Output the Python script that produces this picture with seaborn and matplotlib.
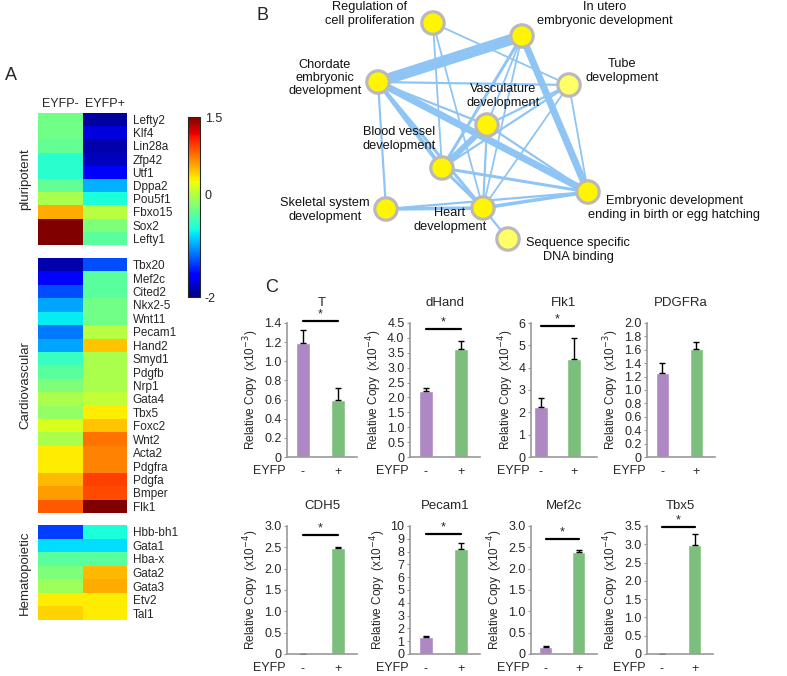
import numpy as np
import pandas as pd
import matplotlib
matplotlib.use('Agg')
import matplotlib.pyplot as plt
import seaborn as sns

sns.set_style('white')
plt.rcParams['font.family'] = ['Liberation Sans', 'DejaVu Sans']

# ---------------- data ----------------
conditions = ['EYFP-', 'EYFP+']

pluri_genes = ['Lefty2', 'Klf4', 'Lin28a', 'Zfp42', 'Utf1', 'Dppa2', 'Pou5f1', 'Fbxo15', 'Sox2', 'Lefty1']
pluri_neg = [-0.30, -0.30, -0.35, -0.60, -0.60, -0.35, -0.05, 0.55, 1.50, 1.50]
pluri_pos = [-1.90, -1.70, -1.85, -1.80, -1.60, -0.95, -0.65, 0.00, -0.25, -0.40]

cardio_genes = ['Tbx20', 'Mef2c', 'Cited2', 'Nkx2-5', 'Wnt11', 'Pecam1', 'Hand2', 'Smyd1', 'Pdgfb', 'Nrp1',
                'Gata4', 'Tbx5', 'Foxc2', 'Wnt2', 'Acta2', 'Pdgfra', 'Pdgfa', 'Bmper', 'Flk1']
cardio_neg = [-1.85, -1.55, -1.30, -1.00, -0.75, -1.15, -1.00, -0.55, -0.40, -0.25,
              -0.05, -0.15, 0.15, -0.05, 0.30, 0.30, 0.50, 0.60, 0.85]
cardio_pos = [-1.30, -0.40, -0.40, -0.30, -0.30, 0.00, 0.45, -0.05, -0.05, -0.05,
              0.05, 0.30, 0.45, 0.75, 0.70, 0.70, 0.95, 0.90, 1.50]

hema_genes = ['Hbb-bh1', 'Gata1', 'Hba-x', 'Gata2', 'Gata3', 'Etv2', 'Tal1']
hema_neg = [-1.35, -0.80, -0.40, -0.25, -0.10, 0.30, 0.40]
hema_pos = [-0.65, -0.80, -0.40, 0.50, 0.55, 0.30, 0.30]

group_names = ['pluripotent', 'Cardiovascular', 'Hematopoietic']

# network (GO terms)
terms = ['Regulation of\ncell proliferation', 'In utero\nembryonic development',
         'Chordate\nembryonic\ndevelopment', 'Tube\ndevelopment', 'Vasculature\ndevelopment',
         'Blood vessel\ndevelopment', 'Skeletal system\ndevelopment', 'Heart\ndevelopment',
         'Embryonic development\nending in birth or egg hatching', 'Sequence specific\nDNA binding']
edge_src = [2, 1, 2, 2, 2, 2, 2, 2, 0, 0, 0, 1, 1, 1, 3, 3, 3, 3, 4, 4, 4, 5, 5, 7, 6, 6, 7]
edge_dst = [1, 8, 8, 5, 7, 3, 4, 6, 5, 3, 7, 4, 5, 7, 4, 5, 7, 8, 5, 7, 8, 7, 8, 8, 7, 8, 9]
edge_weight = [11, 7, 7, 4, 3, 2.2, 2.2, 2.2, 1.8, 1.8, 1.8, 1.8, 3, 1.8, 2.2, 2.2, 1.8, 1.8, 6, 2.2, 2.2, 3, 3, 3.5, 3.5, 2.2, 2.2]

# qPCR bar charts
qpcr_genes = ['T', 'dHand', 'Flk1', 'PDGFRa', 'CDH5', 'Pecam1', 'Mef2c', 'Tbx5']
mean_neg = [1.19, 2.22, 2.25, 1.25, 0.0, 1.35, 0.17, 0.0]
mean_pos = [0.60, 3.62, 4.40, 1.61, 2.48, 8.22, 2.40, 2.98]
err_neg = [0.14, 0.11, 0.38, 0.16, 0.0, 0.05, 0.01, 0.0]
err_pos = [0.12, 0.28, 0.95, 0.11, 0.03, 0.43, 0.03, 0.29]
exponent = [-3, -4, -4, -3, -4, -4, -4, -4]
y_max = [1.4, 4.5, 6, 2.0, 3.0, 10, 3.0, 3.5]
y_step = [0.2, 0.5, 1, 0.2, 0.5, 1, 0.5, 0.5]
y_decimals = [1, 1, 0, 1, 1, 0, 1, 1]
significant = [True, True, True, False, True, True, True, True]
sig_level = [1.42, 4.30, 5.88, 0.0, 2.79, 9.40, 2.70, 3.47]
eyfp_labels = ['-', '+']

# ---------------- layout ----------------
W, H = 787, 676
fig = plt.figure(figsize=(W / 100, H / 100), dpi=100)


def rect(l, t, r, b):
    return [l / W, 1 - b / H, (r - l) / W, (b - t) / H]


# ---------------- panel A: heatmap ----------------
blocks = [(pluri_genes, pluri_neg, pluri_pos, (38, 113, 127, 245)),
          (cardio_genes, cardio_neg, cardio_pos, (38, 258, 127, 513)),
          (hema_genes, hema_neg, hema_pos, (38, 525, 127, 620))]
hm_axes = []
for i, (genes, neg, pos, box) in enumerate(blocks):
    ax = fig.add_axes(rect(*box))
    df = pd.DataFrame({conditions[0]: neg, conditions[1]: pos}, index=genes)
    sns.heatmap(df, ax=ax, cmap='jet', vmin=-2, vmax=1.5, cbar=False,
                xticklabels=(i == 0), yticklabels=True)
    ax.yaxis.tick_right()
    ax.tick_params(axis='y', length=0, labelsize=8.5, pad=4, labelrotation=0)
    for t in ax.get_yticklabels():
        t.set_rotation(0)
    if i == 0:
        ax.xaxis.tick_top()
        ax.tick_params(axis='x', length=0, labelsize=9, pad=2, labelrotation=0)
    ax.set_xlabel('')
    ax.yaxis.set_label_position('left')
    ax.set_ylabel(group_names[i], fontsize=9.5, labelpad=5)
    hm_axes.append(ax)

cax = fig.add_axes(rect(188, 117, 200, 297))
cb = fig.colorbar(hm_axes[0].collections[0], cax=cax, ticks=[-2, 0, 1.5])
cb.ax.set_yticklabels(['-2', '0', '1.5'])
cb.ax.tick_params(labelsize=9, direction='in', length=3, width=0.6, left=True, right=True)
cb.outline.set_linewidth(0.8)

fig.text(5 / W, 1 - 75 / H, 'A', fontsize=13, va='center', ha='left')

# ---------------- panel B: network ----------------
node_x = [433, 522, 378, 569, 487, 442, 386, 483, 588, 508]
node_y = [23, 36, 82, 85, 125, 168, 209, 208, 192, 239]
label_x = [370, 605, 325, 622, 503, 399, 325, 450, 674, 578]
label_y = [14, 14, 78, 71, 96, 139, 210, 220, 208, 250]

axn = fig.add_axes(rect(240, 0, 787, 265))
axn.set_xlim(240, 787)
axn.set_ylim(265, 0)
axn.axis('off')
for s, d, w in zip(edge_src, edge_dst, edge_weight):
    axn.plot([node_x[s], node_x[d]], [node_y[s], node_y[d]], color='#8EC5F4',
             lw=w * 0.72, solid_capstyle='butt', zorder=1)
nodes = pd.DataFrame({'x': node_x, 'y': node_y, 'term': terms})
node_fill = ['#FFF500'] * len(terms)
node_fill[3] = '#FFFF66'
node_fill[9] = '#FFFF66'
sns.scatterplot(data=nodes, x='x', y='y', ax=axn, s=260, c=node_fill,
                edgecolor='#B9B9B9', linewidth=2.3, zorder=3, legend=False)
axn.set_xlabel('')
axn.set_ylabel('')
for t, lx, ly in zip(terms, label_x, label_y):
    axn.text(lx, ly, t, ha='center', va='center', fontsize=9.2, color='#111111',
             linespacing=1.15, zorder=4)
fig.text(263 / W, 1 - 16 / H, 'B', fontsize=13, va='center', ha='center')

# ---------------- panel C: bar charts ----------------
boxes = [(287, 323, 357, 457), (410, 323, 480, 457), (531, 323, 597, 457), (647, 323, 715, 457),
         (287, 526, 357, 654), (410, 526, 480, 654), (531, 526, 597, 654), (647, 526, 713, 654)]
x_left = [-0.45, -0.45, -0.3, -0.45, -0.45, -0.45, -0.45, -0.45]
palette = {'-': '#AD88C3', '+': '#7CBF7C'}

for i, g in enumerate(qpcr_genes):
    ax = fig.add_axes(rect(*boxes[i]))
    df = pd.DataFrame({'EYFP': eyfp_labels, 'copy': [mean_neg[i], mean_pos[i]]})
    sns.barplot(data=df, x='EYFP', y='copy', hue='EYFP', palette=palette, ax=ax,
                width=0.4, legend=False, saturation=1, errorbar=None)
    ax.errorbar([0, 1], [mean_neg[i], mean_pos[i]],
                yerr=[[0, 0], [err_neg[i], err_pos[i]]], fmt='none', ecolor='black',
                elinewidth=1.0, capsize=2.5, capthick=1.0)
    ax.set_xlim(x_left[i], x_left[i] + 2.0)
    ax.set_ylim(0, y_max[i])
    ticks = np.round(np.arange(0, y_max[i] + y_step[i] / 2, y_step[i]), 3)
    ax.set_yticks(ticks)
    ax.set_yticklabels(['0' if v == 0 else f'{v:.{y_decimals[i]}f}' for v in ticks])
    for side in ['top', 'right']:
        ax.spines[side].set_visible(False)
    for side in ['left', 'bottom']:
        ax.spines[side].set_color('#9A9A9A')
        ax.spines[side].set_linewidth(1.2)
    ax.tick_params(axis='y', left=True, length=2.5, width=0.8, color='#9A9A9A',
                   labelsize=9, pad=1.5)
    ax.tick_params(axis='x', bottom=False, labelsize=9, pad=3)
    ax.set_xlabel('')
    ax.set_ylabel(f'Relative Copy  (x10$^{{{exponent[i]}}}$)', fontsize=8.5, labelpad=2)
    ax.set_title(g, fontsize=9.5, pad=12)
    ax.annotate('EYFP', xy=(0, 0), xycoords='axes fraction', xytext=(-1, -10),
                textcoords='offset points', ha='right', va='center', fontsize=9)
    if significant[i]:
        ax.plot([0, 1], [sig_level[i], sig_level[i]], color='black', lw=1.6, clip_on=False)
        ax.text(0.5, sig_level[i] + y_max[i] * 0.005, '*', ha='center', va='bottom',
                fontsize=9, clip_on=False)

fig.text(272 / W, 1 - 288 / H, 'C', fontsize=13, va='center', ha='center')

fig.savefig('out.png', dpi=100)
